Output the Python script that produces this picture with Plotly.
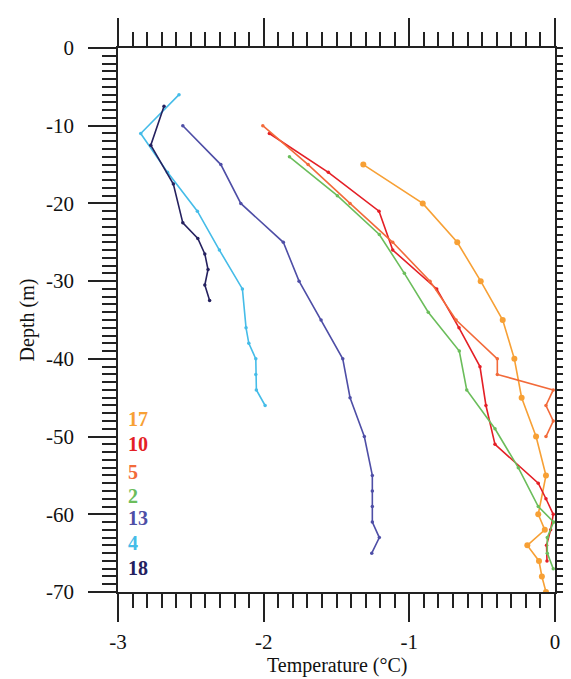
import plotly.graph_objects as go

# ---- data (temperature °C, depth m) ----
s17_t = [-1.316, -0.908, -0.671, -0.510, -0.359, -0.279, -0.229, -0.130, -0.062, -0.115, -0.070, -0.190, -0.110, -0.090, -0.062]
s17_d = [-15, -20, -25, -30, -35, -40, -45, -50, -55, -60, -62, -64, -66, -68, -70]

s10_t = [-1.961, -1.556, -1.208, -1.114, -0.812, -0.659, -0.515, -0.474, -0.412, -0.115, -0.062, -0.012, -0.030, -0.058, -0.055]
s10_d = [-11, -16, -21, -26, -31, -36, -41, -46, -51, -56, -58, -60, -62, -64, -66]

s5_t = [-2.006, -1.695, -1.407, -1.114, -0.858, -0.679, -0.396, -0.396, -0.012, -0.062, -0.012, -0.062]
s5_d = [-10, -15, -20, -25, -30, -35, -40, -42, -44, -46, -48, -50]

s2_t = [-1.823, -1.494, -1.206, -1.034, -0.870, -0.657, -0.606, -0.412, -0.252, -0.115, -0.010, -0.053, -0.053, -0.012]
s2_d = [-14, -19, -24, -29, -34, -39, -44, -49, -54, -59, -61, -63, -65, -67]

s13_t = [-2.555, -2.294, -2.157, -1.865, -1.757, -1.606, -1.457, -1.407, -1.309, -1.254, -1.254, -1.254, -1.254, -1.206, -1.258]
s13_d = [-10, -15, -20, -25, -30, -35, -40, -45, -50, -55, -57, -59, -61, -63, -65]

s4_t = [-2.581, -2.844, -2.660, -2.455, -2.304, -2.146, -2.121, -2.102, -2.054, -2.054, -2.050, -1.990]
s4_d = [-6, -11, -16, -21, -26, -31, -36, -38, -40, -42, -44, -46]

s18_t = [-2.684, -2.775, -2.620, -2.555, -2.452, -2.404, -2.382, -2.404, -2.371]
s18_d = [-7.5, -12.5, -17.5, -22.5, -24.5, -26.5, -28.5, -30.5, -32.5]

series_names = ["17", "10", "5", "2", "13", "4", "18"]
series_colors = ["#F7A035", "#E41F26", "#F26A3A", "#6BBD5B", "#4E4EA6", "#45BCE8", "#25215F"]

x_tickvals = [-3, -2, -1, 0]
x_ticktext = ["-3", "-2", "-1", "0"]
y_tickvals = [0, -10, -20, -30, -40, -50, -60, -70]
y_ticktext = ["0", "-10", "-20", "-30", "-40", "-50", "-60", "-70"]

data = [(s17_t, s17_d), (s10_t, s10_d), (s5_t, s5_d), (s2_t, s2_d),
        (s13_t, s13_d), (s4_t, s4_d), (s18_t, s18_d)]

FONT = "Liberation Serif, Times New Roman, serif"

fig = go.Figure()
for (t, d), name, col in zip(data, series_names, series_colors):
    fig.add_trace(go.Scatter(
        x=t, y=d, mode="lines+markers", name=name,
        line=dict(color=col, width=1.6),
        marker=dict(color=col, size=6 if name == "17" else 3.5),
        showlegend=False,
    ))

# labels (legend-like text)
label_y = [-47.8, -50.9, -54.5, -57.7, -60.5, -63.7, -66.9]
for name, col, yy in zip(series_names, series_colors, label_y):
    fig.add_annotation(x=-2.945, y=yy, xref="x", yref="y", text="<b>%s</b>" % name,
                       showarrow=False, xanchor="left", yanchor="middle",
                       font=dict(family=FONT, size=20, color=col))

# x-axis title as annotation (to keep it inside the page)
fig.add_annotation(x=0.5, y=-0.136, xref="paper", yref="paper", text="Temperature (°C)",
                   showarrow=False, xanchor="center", yanchor="middle",
                   font=dict(family=FONT, size=20, color="#111"))

axis_common = dict(
    showline=True, linecolor="#222", linewidth=1.5, mirror="ticks",
    ticks="outside", ticklen=28, tickwidth=1.5, tickcolor="#222",
    showgrid=False, zeroline=False, automargin=False,
    tickfont=dict(family=FONT, size=21, color="#111"),
)

fig.update_xaxes(range=[-3, 0], tickvals=x_tickvals, ticktext=x_ticktext,
                 minor=dict(dtick=0.1, ticklen=14, tickwidth=1.5, tickcolor="#222", ticks="outside", showgrid=False),
                 ticklabelstandoff=2,
                 **axis_common)
fig.update_yaxes(range=[-70, 0], tickvals=y_tickvals, ticktext=y_ticktext,
                 minor=dict(dtick=1, tick0=0, ticklen=14, tickwidth=1.5, tickcolor="#222", ticks="outside", showgrid=False),
                 title=dict(text="Depth (m)", font=dict(family=FONT, size=20, color="#111"), standoff=6),
                 ticklabelstandoff=10,
                 **axis_common)

fig.update_layout(
    width=571, height=679,
    margin=dict(l=110, r=24, t=40, b=95),
    plot_bgcolor="white", paper_bgcolor="white",
    font=dict(family=FONT),
)

fig.write_html("out.html")
